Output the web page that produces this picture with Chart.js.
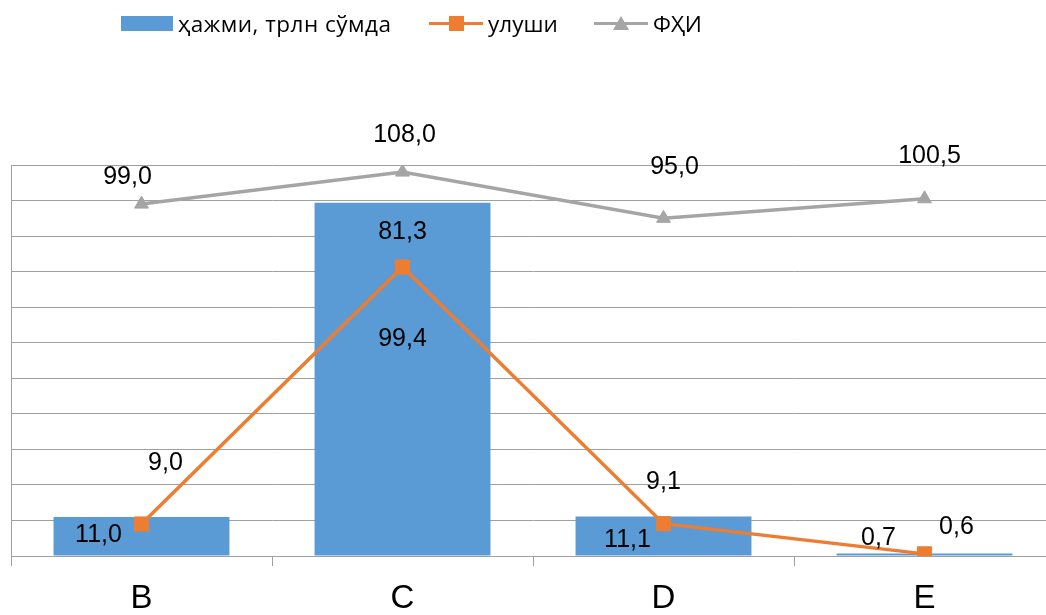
<!DOCTYPE html>
<html lang="uz">
<head>
    <meta charset="UTF-8">
    <meta name="viewport" content="width=device-width, initial-scale=1.0">
    <title>ҳажми, улуши, ФҲИ</title>
    <script src="https://cdn.jsdelivr.net/npm/chart.js"></script>
    <style>
        html, body {
            margin: 0;
            padding: 0;
            background: #fff;
            overflow: hidden;
        }
        .wrap {
            position: relative;
            width: 1066px;
            height: 615px;
            overflow: hidden;
        }
        .chart-box {
            position: absolute;
            left: 0;
            top: 0;
            width: 1066px;
            height: 632px;
        }
        .legend-item {
            position: absolute;
            top: 8px;
            height: 30px;
            display: flex;
            align-items: center;
            font-family: "Open Sans", "Noto Sans", sans-serif;
            font-size: 22.5px;
            color: #000;
            white-space: nowrap;
            z-index: 2;
        }
        .legend-item.wide {
            letter-spacing: 0.5px;
        }
        .swatch {
            position: relative;
            width: 54px;
            height: 16px;
            margin-right: 5px;
        }
        .swatch.bar {
            width: 52px;
            height: 15px;
            background: #5B9BD5;
        }
        .swatch .stroke {
            position: absolute;
            left: 0;
            right: 0;
            top: 6.5px;
            height: 3px;
        }
        .swatch .square {
            position: absolute;
            left: 20px;
            top: 0.5px;
            width: 15px;
            height: 15px;
            background: #ED7D31;
        }
        .swatch .tri {
            position: absolute;
            left: 18.5px;
            top: 1px;
            width: 0;
            height: 0;
            border-left: 8.5px solid transparent;
            border-right: 8.5px solid transparent;
            border-bottom: 14px solid #A5A5A5;
        }
    </style>
</head>
<body>
    <div class="wrap">
        <div id="legend"></div>
        <div class="chart-box">
            <canvas id="chart"></canvas>
        </div>
    </div>

    <script>
        // маълумотлар
        const categories = ['B', 'C', 'D', 'E'];
        const seriesNames = ['ҳажми, трлн сўмда', 'улуши', 'ФҲИ'];
        const volume = [11.0, 99.4, 11.1, 0.7];
        const share = [9.0, 81.3, 9.1, 0.6];
        const fhi = [99.0, 108.0, 95.0, 100.5];

        const colors = ['#5B9BD5', '#ED7D31', '#A5A5A5'];

        // legend (HTML, chunki u diagrammadan chaproqda turadi)
        const legendLeft = [121, 429, 594];
        const legendEl = document.getElementById('legend');
        seriesNames.forEach((name, i) => {
            const item = document.createElement('div');
            item.className = i === 0 ? 'legend-item wide' : 'legend-item';
            item.style.left = legendLeft[i] + 'px';
            const sw = document.createElement('span');
            if (i === 0) {
                sw.className = 'swatch bar';
            } else {
                sw.className = 'swatch';
                const stroke = document.createElement('span');
                stroke.className = 'stroke';
                stroke.style.background = colors[i];
                sw.appendChild(stroke);
                const mark = document.createElement('span');
                mark.className = i === 1 ? 'square' : 'tri';
                sw.appendChild(mark);
            }
            item.appendChild(sw);
            item.appendChild(document.createTextNode(name));
            legendEl.appendChild(item);
        });

        // qiymat yozuvlari, har bir nuqtaga nisbatan siljish
        const labelOffsets = [
            [[-43, 18], [0, 136], [-36, 24], [-46, -15]],
            [[24, -61], [0, -35], [0, -42], [32, -27]],
            [[-14, -27], [2, -37], [11, -51], [5, -43]]
        ];

        const valueLabels = {
            id: 'valueLabels',
            afterDatasetsDraw(chart) {
                const ctx = chart.ctx;
                ctx.save();
                ctx.font = '25px "Liberation Sans", Arial, sans-serif';
                ctx.fillStyle = '#000';
                ctx.textAlign = 'center';
                ctx.textBaseline = 'middle';
                chart.data.datasets.forEach((ds, i) => {
                    const meta = chart.getDatasetMeta(i);
                    meta.data.forEach((el, j) => {
                        const [dx, dy] = labelOffsets[i][j];
                        const txt = ds.data[j].toFixed(1).replace('.', ',');
                        ctx.fillText(txt, el.x + dx, el.y + dy);
                    });
                });
                ctx.restore();
            }
        };

        const gridColor = '#A0A0A0';

        const ctx = document.getElementById('chart').getContext('2d');
        const chart = new Chart(ctx, {
            data: {
                labels: categories,
                datasets: [
                    {
                        type: 'bar',
                        label: seriesNames[0],
                        data: volume,
                        backgroundColor: colors[0],
                        barPercentage: 0.674,
                        categoryPercentage: 1,
                        order: 3
                    },
                    {
                        type: 'line',
                        label: seriesNames[1],
                        data: share,
                        borderColor: colors[1],
                        backgroundColor: colors[1],
                        borderWidth: 3.5,
                        pointStyle: 'rect',
                        pointRadius: 10,
                        pointBorderWidth: 1,
                        tension: 0,
                        order: 1
                    },
                    {
                        type: 'line',
                        label: seriesNames[2],
                        data: fhi,
                        borderColor: colors[2],
                        backgroundColor: colors[2],
                        borderWidth: 3.5,
                        pointStyle: 'triangle',
                        pointRadius: 8,
                        pointBorderWidth: 1,
                        tension: 0,
                        order: 2
                    }
                ]
            },
            options: {
                responsive: true,
                maintainAspectRatio: false,
                animation: false,
                layout: {
                    padding: { top: 165, left: 10, right: 0, bottom: 1 }
                },
                scales: {
                    x: {
                        grid: {
                            drawOnChartArea: false,
                            tickLength: 10,
                            color: gridColor
                        },
                        border: { display: true, color: gridColor },
                        ticks: {
                            padding: 16,
                            color: '#000',
                            font: { family: '"Liberation Sans", Arial, sans-serif', size: 33, lineHeight: 1 }
                        }
                    },
                    y: {
                        min: 0,
                        max: 110,
                        ticks: { display: false, stepSize: 10 },
                        grid: { drawTicks: false, color: gridColor },
                        border: { display: true, color: gridColor }
                    }
                },
                plugins: {
                    legend: { display: false },
                    tooltip: { enabled: false }
                }
            },
            plugins: [valueLabels]
        });
    </script>
</body>
</html>
